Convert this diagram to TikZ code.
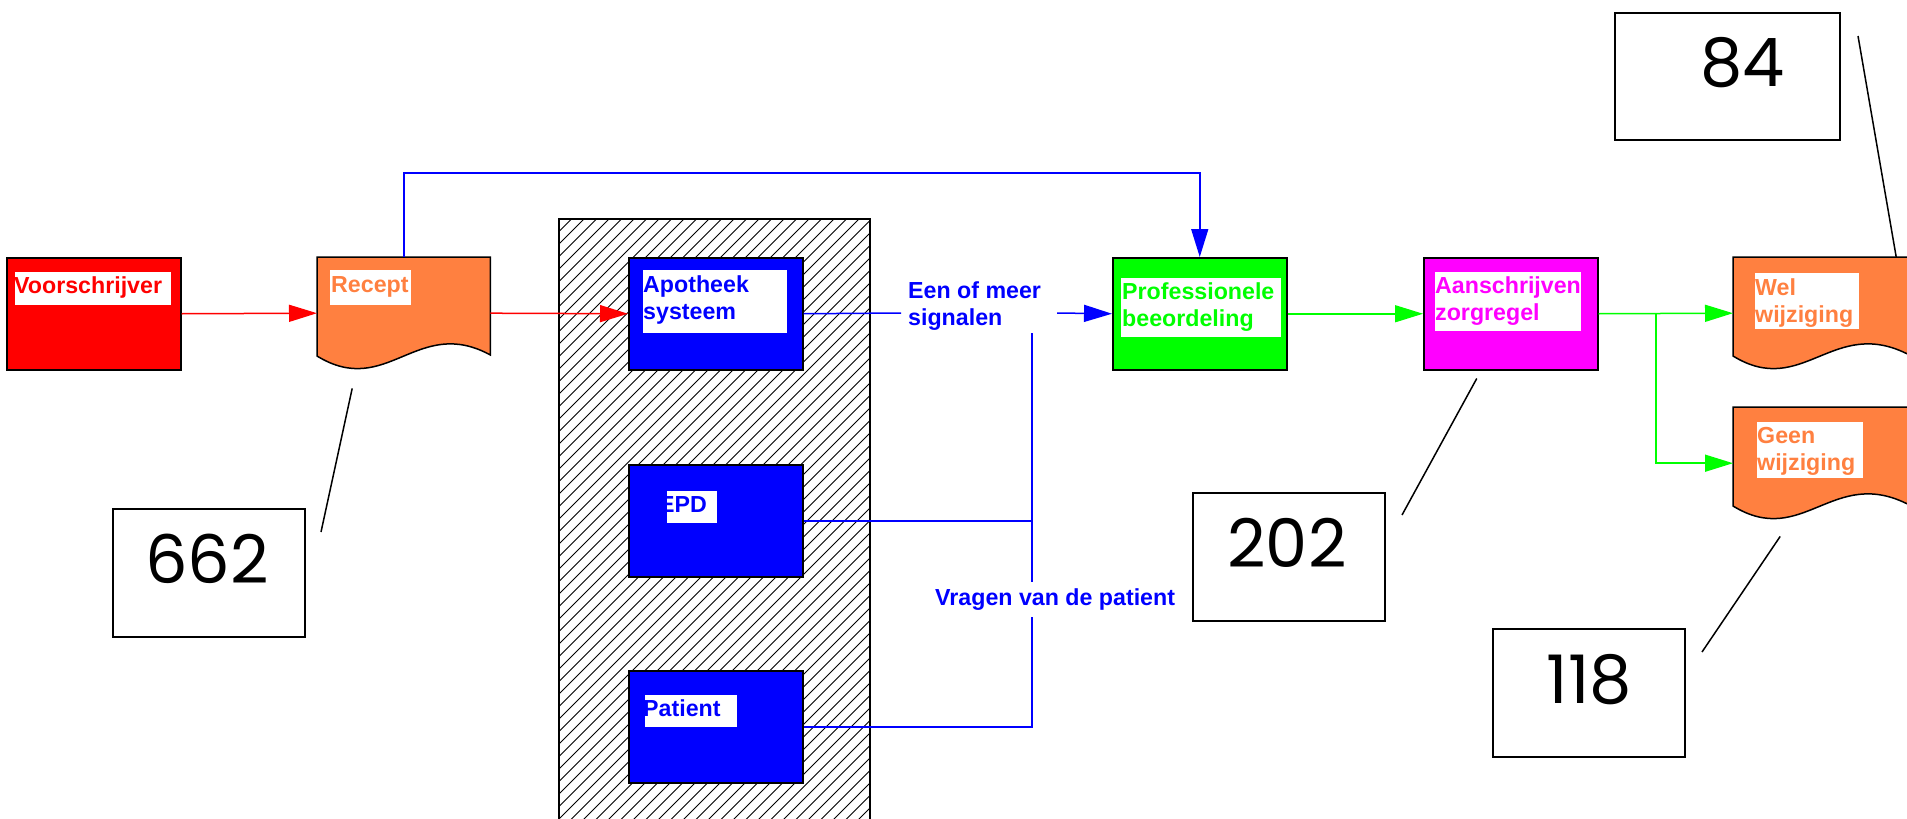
\documentclass[tikz,border=0pt]{standalone}
\usepackage{fontspec}
\setmainfont{Liberation Sans}
\newfontfamily\numfont{Poppins}
\usetikzlibrary{arrows.meta,calc}
\definecolor{docorange}{HTML}{FF8040}
\definecolor{boxred}{HTML}{FF0000}
\definecolor{boxblue}{HTML}{0000FF}
\definecolor{boxgreen}{HTML}{00FF00}
\definecolor{boxmagenta}{HTML}{FF00FF}
\newcommand\lblfont{\fontsize{23.2bp}{27bp}\selectfont\bfseries}
\newcommand\twoline[2]{\begin{tabular}[t]{@{}l@{}}#1\\#2\end{tabular}}
\newcommand\mydoc[2]{%
  \filldraw[fill=#2, draw=black, line width=1.5bp]
    (#1.north west) -- (#1.north east) -- ($(#1.north east)+(0,98)$)
    .. controls ($(#1.north west)+(100,58)$) and ($(#1.north west)+(70,142)$) ..
    ($(#1.north west)+(0,99)$) -- cycle;}
\begin{document}
\begin{tikzpicture}[x=1bp,y=-1bp,
  box/.style={draw=black, line width=1.5bp, minimum width=174bp, minimum height=112bp, inner sep=0pt, anchor=north west},
  docnode/.style={minimum width=173bp, minimum height=112bp, inner sep=0pt, anchor=north west},
  lbl/.style={anchor=base west, inner sep=0pt, font=\lblfont},
  conn/.style={line width=1.5bp},
  tip/.style={-{Triangle[length=28bp,width=17bp]}},
  numbox/.style={draw=black, line width=2bp, anchor=north west, inner sep=0pt},
  numtxt/.style={anchor=base, inner sep=0pt, font=\numfont\fontsize{67bp}{70bp}\selectfont},
  callout/.style={draw=black, line width=1.5bp}]
\useasboundingbox (0,0) rectangle (1907,819);
\fill[white] (0,0) rectangle (1907,819);

% hatched area
\begin{scope}
  \clip (559,219) rectangle (870,830);
  \foreach \a in {0,12.5,...,925} \draw[line width=1bp] ({559-611+\a},830) -- ++(611,-611);
\end{scope}
\draw[line width=1.5bp] (559,219) rectangle (870,830);

% boxes
\node[box, fill=boxred] (vo) at (6,257) {};
\node[docnode] (rec) at (317,257) {};
\node[box, fill=boxblue] (apo) at (628,257) {};
\node[box, fill=boxblue] (epd) at (628,464) {};
\node[box, fill=boxblue] (pat) at (628,670) {};
\node[box, fill=boxgreen] (prof) at (1112,257) {};
\node[box, fill=boxmagenta] (aan) at (1423,257) {};
\node[docnode, minimum width=176bp] (wel) at (1733,257) {};
\node[docnode, minimum width=176bp] (geen) at (1733,407) {};
\mydoc{rec}{docorange}
\mydoc{wel}{docorange}
\mydoc{geen}{docorange}

% white label fields
\fill[white] (15,272) rectangle (171,305);
\fill[white] (330,270) rectangle (411,305);
\fill[white] (643,270) rectangle (787,333);
\fill[white] (667,491) rectangle (717,523);
\fill[white] (645,695) rectangle (737,727);
\fill[white] (1121,278) rectangle (1281,337);
\fill[white] (1435,272) rectangle (1581,331);
\fill[white] (1755,273) rectangle (1859,329);
\fill[white] (1757,422) rectangle (1863,478);

% label texts
\node[lbl, text=boxred] (vo-t) at (14,293) {Voorschrijver};
\node[lbl, text=docorange] (rec-t) at (331,292) {Recept};
\node[lbl, text=boxblue] (apo-t) at (643,292) {\twoline{Apotheek}{systeem}};
\node[lbl, text=boxblue] (epd-t) at (659,512) {EPD};
\node[lbl, text=boxblue] (pat-t) at (643,716.5) {Patient};
\node[lbl, text=boxgreen] (prof-t) at (1122,299) {\twoline{Professionele}{beeordeling}};
\node[lbl, text=boxmagenta] (aan-t) at (1435,293.5) {\twoline{Aanschrijven}{zorgregel}};
\node[lbl, text=docorange] (wel-t) at (1755,295) {\twoline{Wel}{wijziging}};
\node[lbl, text=docorange] (geen-t) at (1757,443) {\twoline{Geen}{wijziging}};
\node[lbl, text=boxblue] (sig) at (908,298) {\twoline{Een of meer}{signalen}};
\node[lbl, text=boxblue, inner ysep=4bp] (vr) at (935,605) {\twoline{Vragen van de patient}{}};

% connectors
\draw[conn, boxred, tip] (vo.east) -- (rec.west);
\draw[conn, boxred, tip] (rec.east) -- (apo.west);
\coordinate (ctop) at (404,173);
\draw[conn, boxblue, tip] (rec.north -| ctop) -- (ctop) -- (ctop -| prof.north) -- (prof.north);
\coordinate (sigin) at (901,313);
\coordinate (sigout) at (1057,313);
\draw[conn, boxblue] (apo.east) -- (sigin);
\draw[conn, boxblue, tip] (sigout) -- (prof.west);
\coordinate (bus) at (1032,333);
\draw[conn, boxblue] (bus) -- (bus |- vr.north);
\draw[conn, boxblue] (bus |- vr.south) -- (bus |- pat.east) -- (pat.east);
\draw[conn, boxblue] (epd.east) -- (bus |- epd.east);
\draw[conn, boxgreen, tip] (prof.east) -- (aan.west);
\draw[conn, boxgreen, tip] (aan.east) -- (wel.west);
\coordinate (br) at (1656,313);
\draw[conn, boxgreen, tip] (br) -- (br |- geen.west) -- (geen.west);

% number boxes
\node[numbox, minimum width=192bp, minimum height=128bp] (n662) at (112,508) {};
\node[numbox, minimum width=192bp, minimum height=128bp] (n202) at (1192,492) {};
\node[numbox, minimum width=192bp, minimum height=128bp] (n118) at (1492,628) {};
\node[numbox, minimum width=225bp, minimum height=127bp] (n84) at (1614,12) {};
\node[numtxt] (t662) at (207,583) {662};
\node[numtxt] (t202) at (1287,567) {202};
\node[numtxt] (t118) at (1589.5,703) {118};
\node[numtxt] (t84) at (1742.5,87) {84};
\draw[callout] ($(n662.north east)+(15,24)$) -- ($(rec.south)+(-51.5,19)$);
\draw[callout] ($(n202.north east)+(16,23)$) -- ($(aan.south)+(-34,8)$);
\draw[callout] ($(n118.north east)+(16,24)$) -- ($(geen.south)+(-41,17)$);
\draw[callout] ($(n84.north east)+(17,24)$) -- ($(wel.north)+(75,0)$);
\end{tikzpicture}
\end{document}
